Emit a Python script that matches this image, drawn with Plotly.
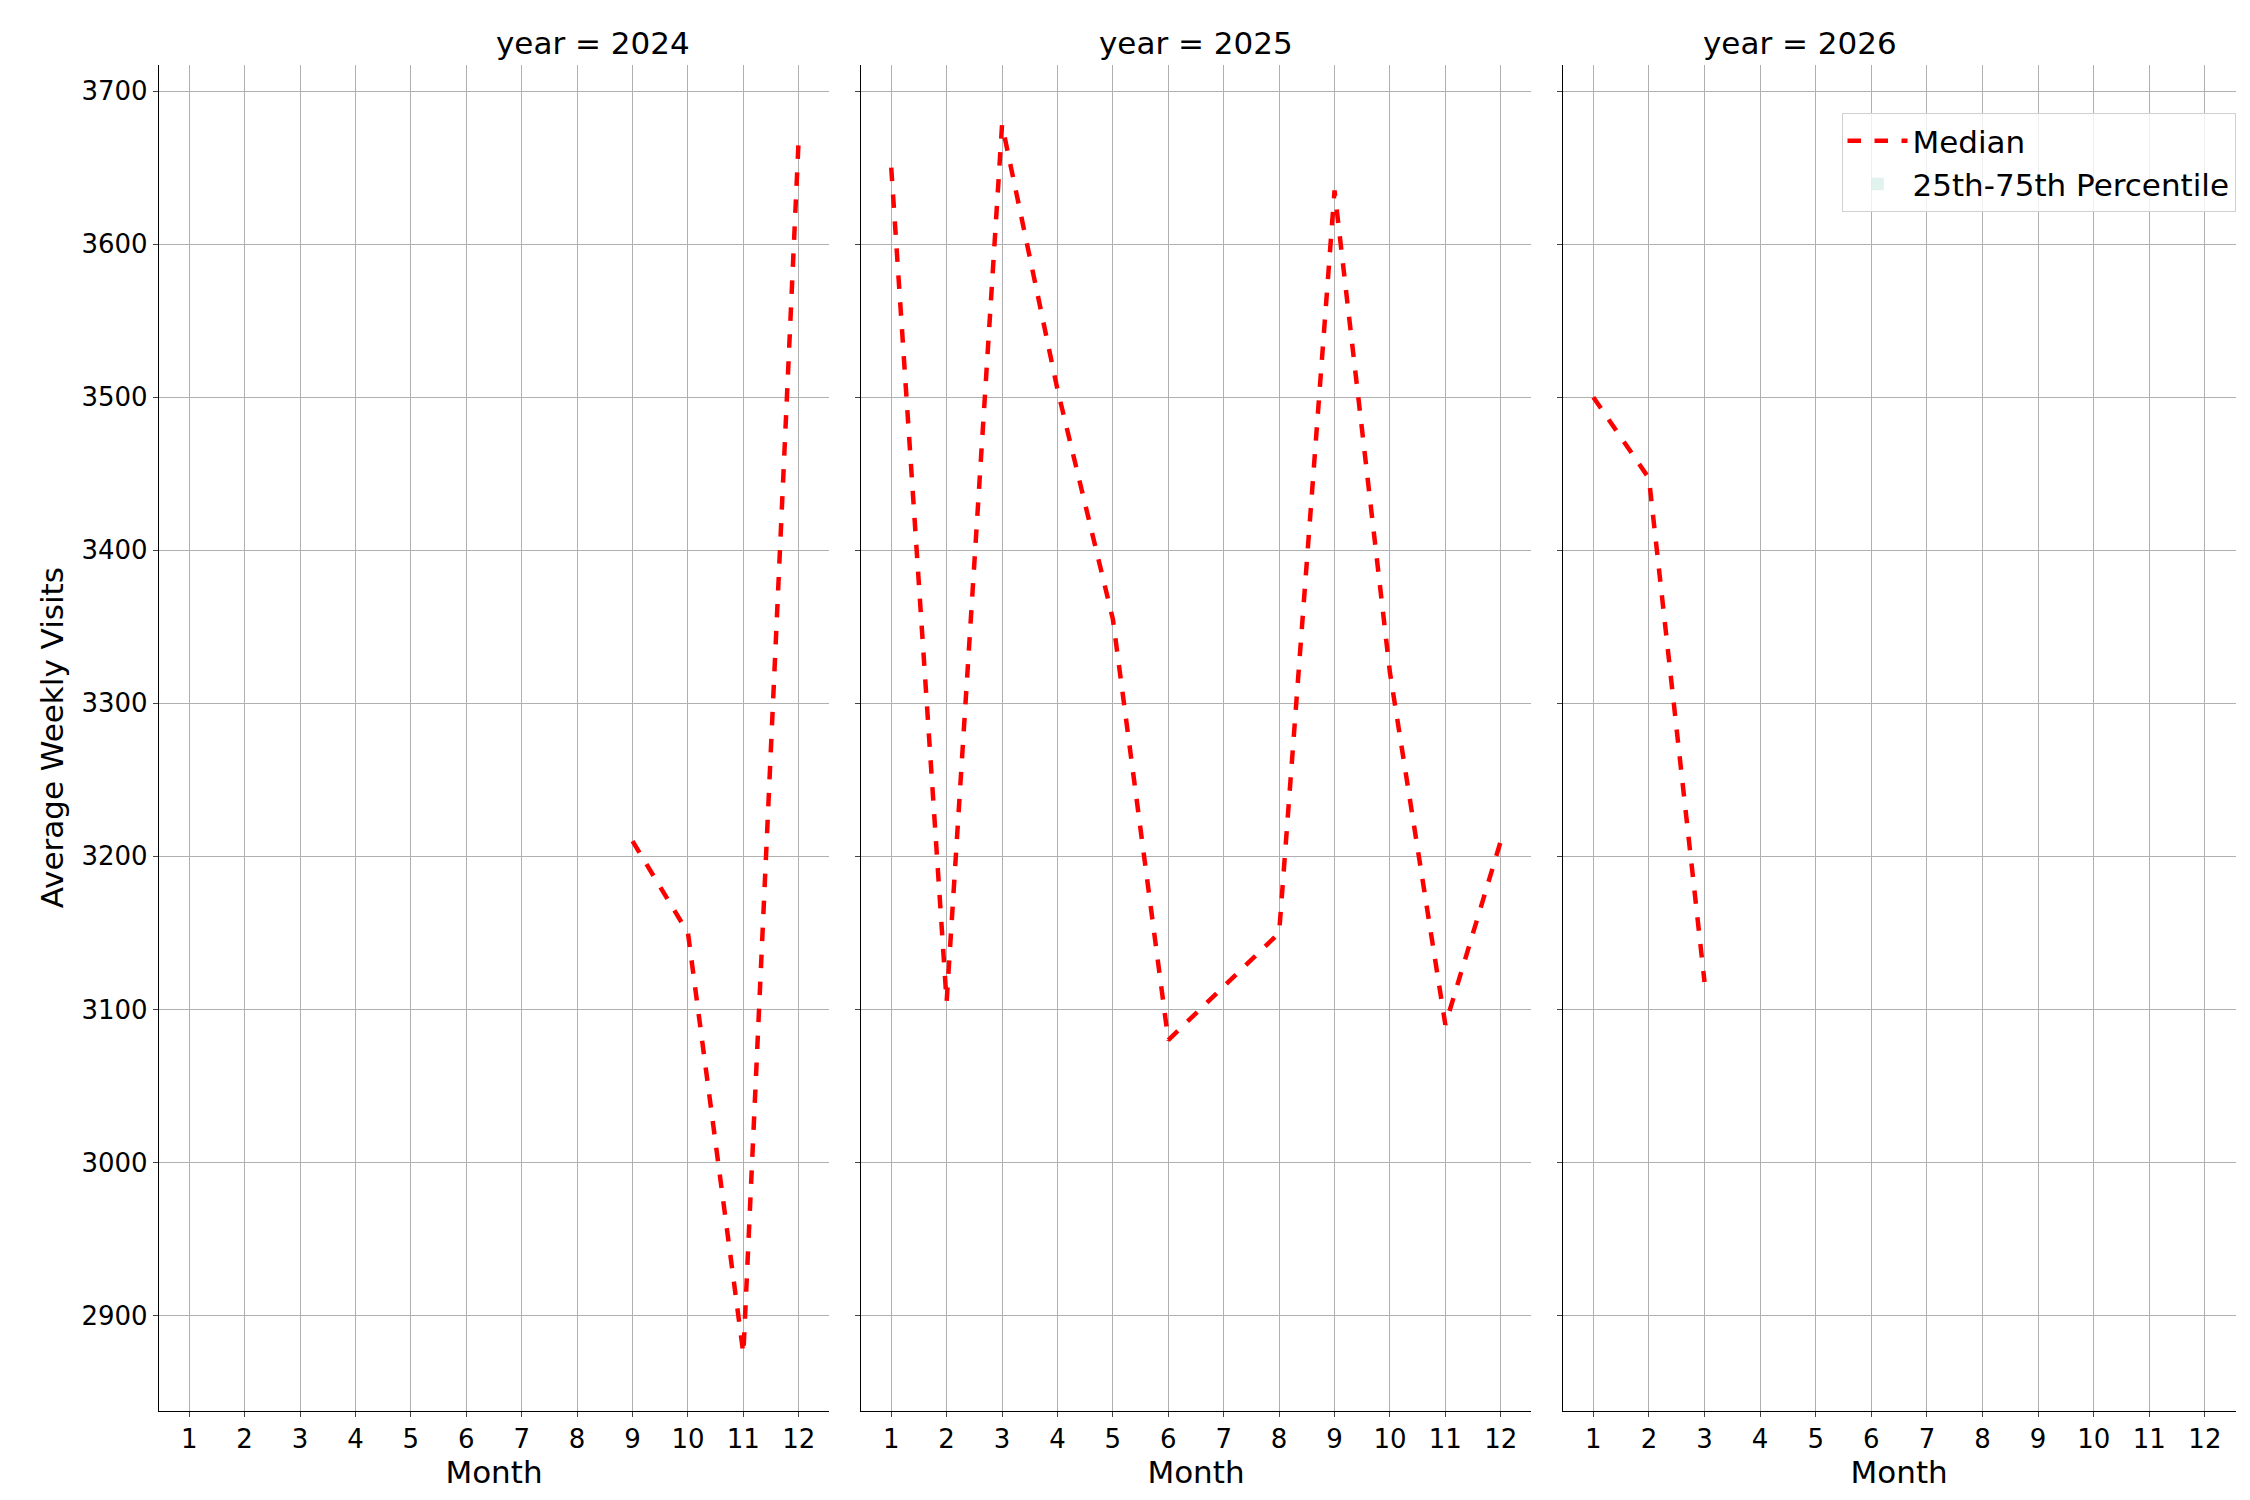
import plotly.graph_objects as go

months = list(range(1, 13))
years = [2024, 2025, 2026]
median_2024 = [None] * 8 + [3210, 3150, 2875, 3670]
median_2025 = [3650, 3105, 3678, 3505, 3355, 3080, 3115, 3150, 3635, 3320, 3090, 3210]
median_2026 = [3500, 3447, 3118] + [None] * 9
medians = [median_2024, median_2025, median_2026]

fig = go.Figure()
xdom = [(0.067, 0.365), (0.379, 0.677), (0.691, 0.990)]
ydom = (0.065, 0.962)
grid = "#b0b0b0"

for i, (yr, med) in enumerate(zip(years, medians)):
    n = "" if i == 0 else str(i + 1)
    fig.add_trace(go.Scatter(x=months, y=med, mode="lines", name="Median",
                             line=dict(color="red", width=4.5, dash="dash"),
                             showlegend=(i == 2), xaxis="x" + n, yaxis="y" + n))
    fig.update_layout(**{
        "xaxis" + n: dict(domain=xdom[i], anchor="y" + n, range=[0.45, 12.55],
                          tickvals=months, showgrid=True, gridcolor=grid,
                          showline=True, linecolor="black", ticks="outside",
                          title=dict(text="Month", font=dict(size=31), standoff=4),
                          zeroline=False),
        "yaxis" + n: dict(domain=ydom, anchor="x" + n, range=[2838, 3717],
                          dtick=100, showgrid=True, gridcolor=grid,
                          showline=True, linecolor="black", ticks="outside",
                          showticklabels=(i == 0), zeroline=False,
                          matches=None if i == 0 else "y",
                          title=dict(text="Average Weekly Visits" if i == 0 else "",
                                     font=dict(size=31), standoff=8)),
    })
    fig.add_annotation(text=f"year = {yr}", x=sum(xdom[i]) / 2, y=ydom[1],
                       xref="paper", yref="paper", yanchor="bottom", yshift=2,
                       showarrow=False, font=dict(size=31))

fig.add_trace(go.Bar(x=[None], y=[None], marker_color="rgba(102,194,165,0.2)",
                     name="25th-75th Percentile", xaxis="x3", yaxis="y3"))

fig.update_layout(
    width=2250, height=1500, plot_bgcolor="white", paper_bgcolor="white",
    margin=dict(l=0, r=0, t=0, b=0),
    font=dict(family="DejaVu Sans", size=26, color="black"),
    legend=dict(x=0.99, y=0.93, xanchor="right", yanchor="top",
                bordercolor="#d0d0d0", borderwidth=1, font=dict(size=31),
                bgcolor="rgba(255,255,255,0.8)", itemwidth=60),
)

fig.write_html("out.html")
